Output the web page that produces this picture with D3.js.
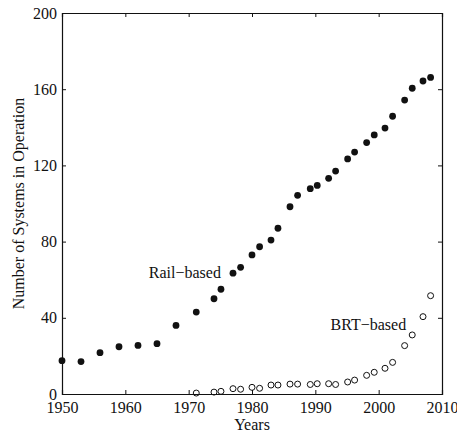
<!DOCTYPE html>
<html>
<head>
<meta charset="utf-8">
<script src="https://cdn.jsdelivr.net/npm/d3@7"></script>
<style>
  body { margin: 0; background: #fff; }
  text { font-family: "Liberation Serif", "Times New Roman", serif; font-size: 16px; fill: #111; }
</style>
</head>
<body>
<script>
// data
var railYears = [1950, 1953, 1956, 1959, 1962, 1965, 1968, 1971.2, 1974, 1975.1, 1977, 1978.2,
                 1980, 1981.2, 1983, 1984.1, 1986, 1987.2, 1989.2, 1990.3, 1992.1, 1993.2,
                 1995.1, 1996.2, 1998.1, 1999.3, 2001, 2002.2, 2004.1, 2005.3, 2007, 2008.2];
var railCount = [17.5, 17, 21.7, 24.8, 25.5, 26.4, 36, 43, 50, 55, 63.4, 66.5,
                 73, 77.3, 80.8, 87, 98.3, 104.3, 107.8, 109.5, 113.2, 117,
                 123.4, 127, 132, 136, 139.6, 145.8, 154.3, 160.5, 164.3, 166.2];
var brtYears = railYears.slice(7);
var brtCount = [0.5, 1, 1.4, 2.8, 2.5, 3.5, 3, 4.7, 4.7, 5.2, 5.2, 5, 5.4,
                5.4, 5, 6.3, 7.3, 9.8, 11.4, 13.5, 16.6, 25.4, 31, 40.6, 51.6];
var xTicks = [1950, 1960, 1970, 1980, 1990, 2000, 2010];
var yTicks = [0, 40, 80, 120, 160, 200];

var W = 457, H = 435;
var left = 62, right = 442, top_ = 13, bottom = 394;

var x = d3.scaleLinear().domain([1950, 2010]).range([left, right]);
var y = d3.scaleLinear().domain([0, 200]).range([bottom, top_]);

var svg = d3.select("body").append("svg")
            .attr("width", W)
            .attr("height", H);

// box with inward ticks on all four sides
var tk = 4;
svg.append("g").attr("transform", "translate(0," + bottom + ")")
    .call(d3.axisBottom(x).tickValues(xTicks).tickFormat(d3.format("d")).tickSize(-tk).tickPadding(8));
svg.append("g").attr("transform", "translate(0," + top_ + ")")
    .call(d3.axisTop(x).tickValues(xTicks).tickSize(-tk).tickFormat(""));
svg.append("g").attr("transform", "translate(" + left + ",0)")
    .call(d3.axisLeft(y).tickValues(yTicks).tickSize(-tk).tickPadding(5));
svg.append("g").attr("transform", "translate(" + right + ",0)")
    .call(d3.axisRight(y).tickValues(yTicks).tickSize(-tk).tickFormat(""));

svg.selectAll(".domain").attr("stroke", "#111").attr("stroke-width", 1.2);
svg.selectAll(".tick line").attr("stroke", "#111");
svg.selectAll(".tick text")
    .style("font-family", "'Liberation Serif', serif")
    .style("font-size", "16px")
    .attr("fill", "#111");

// rail-based: filled dots
svg.append("g").selectAll("circle")
    .data(railYears)
    .join("circle")
    .attr("cx", (d) => x(d))
    .attr("cy", (d, i) => y(railCount[i]))
    .attr("r", 3.4)
    .attr("fill", "#111");

// brt-based: open circles
svg.append("g").selectAll("circle")
    .data(brtYears)
    .join("circle")
    .attr("cx", (d) => x(d))
    .attr("cy", (d, i) => y(brtCount[i]))
    .attr("r", 3)
    .attr("fill", "none")
    .attr("stroke", "#111")
    .attr("stroke-width", 1);

// series labels
svg.append("text").attr("x", x(1963.7)).attr("y", y(61)).text("Rail\u2212based");
svg.append("text").attr("x", x(1992.4)).attr("y", y(33.6)).text("BRT\u2212based");

// axis titles
svg.append("text")
    .attr("x", (left + right) / 2)
    .attr("y", 430)
    .attr("text-anchor", "middle")
    .text("Years");
svg.append("text")
    .attr("transform", "translate(24," + ((top_ + bottom) / 2) + ") rotate(-90)")
    .attr("text-anchor", "middle")
    .text("Number of Systems in Operation");
</script>
</body>
</html>
